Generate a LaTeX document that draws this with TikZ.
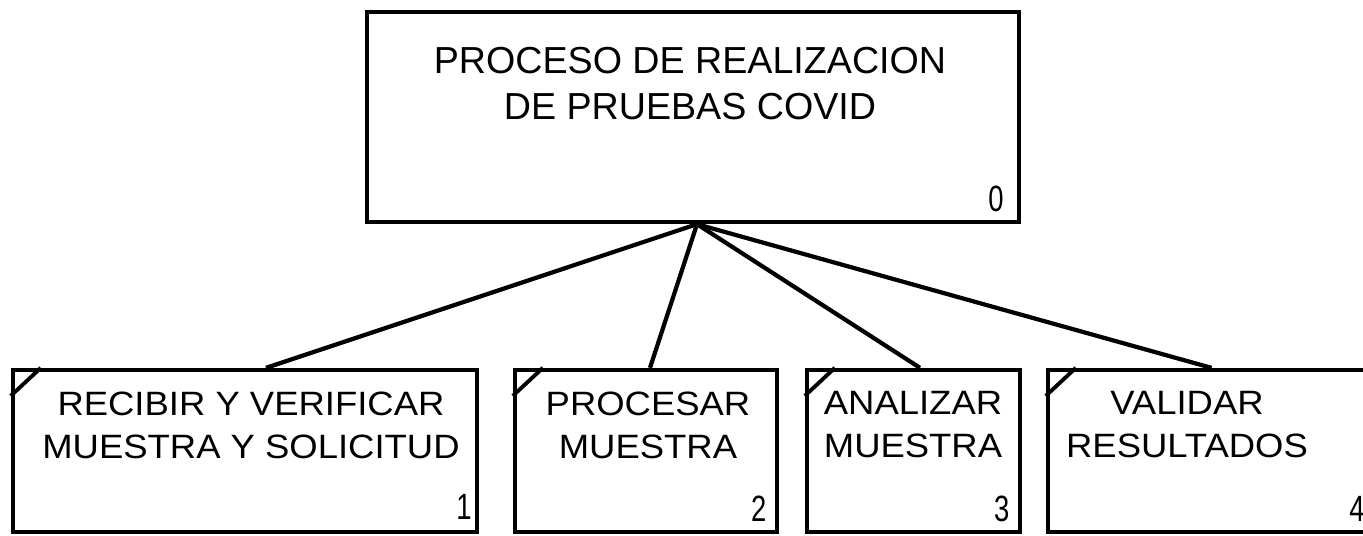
\documentclass[tikz,border=0pt]{standalone}
\usepackage{fontspec}
\setmainfont{Liberation Sans}
\newfontfamily\subfont[FakeStretch=1.08]{Liberation Sans}
\newfontfamily\numfont[FakeStretch=0.75]{Liberation Sans}
\usetikzlibrary{positioning}

\begin{document}
\begin{tikzpicture}[
  x=0.01cm, y=-0.01cm,
  box/.style={draw, line width=1.2pt, rectangle, inner sep=0pt},
  toplbl/.style={font=\fontsize{10.7pt}{13pt}\selectfont, align=center, inner sep=0pt, anchor=north},
  sublbl/.style={font=\subfont\fontsize{9.6pt}{12.2pt}\selectfont, align=center, inner sep=0pt, anchor=north},
  num/.style={font=\numfont\fontsize{10.4pt}{12pt}\selectfont, inner sep=0pt, anchor=south east},
  link/.style={line width=1.2pt},
  tick/.style={line width=1.1pt},
]
\clip (0,0) rectangle (1363,535);
\useasboundingbox (0,0) rectangle (1363,535);

%% ── Parent process ──────────────────────────────────────────────────────
\node[box, minimum width=6.52cm, minimum height=2.10cm] (top) at (693,117) {};
\node[toplbl] (toptxt) at (690,47) {PROCESO DE REALIZACION\\DE PRUEBAS COVID};
\node[num] (n0) at ([xshift=-0.17cm, yshift=0.12cm]top.south east) {0};

%% ── Sub processes ───────────────────────────────────────────────────────
\node[box, minimum width=4.64cm, minimum height=1.62cm] (b1) at (245,451) {};
\node[box, minimum width=2.62cm, minimum height=1.62cm] (b2) at (646,451) {};
\node[box, minimum width=2.13cm, minimum height=1.62cm] (b3) at (913.5,451) {};
\node[box, minimum width=3.27cm, minimum height=1.62cm] (b4) at (1211.5,451) {};

\node[sublbl] (t1) at (251,391) {RECIBIR Y VERIFICAR\\MUESTRA Y SOLICITUD};
\node[sublbl] (t2) at (648,391) {PROCESAR\\MUESTRA};
\node[sublbl] (t3) at (913,391) {ANALIZAR\\MUESTRA};
\node[sublbl] (t4) at (1187,391) {VALIDAR\\RESULTADOS};

\node[num] (n1) at ([xshift=-0.07cm, yshift=0.14cm]b1.south east) {1};
\node[num] (n2) at ([xshift=-0.12cm, yshift=0.12cm]b2.south east) {2};
\node[num] (n3) at ([xshift=-0.12cm, yshift=0.12cm]b3.south east) {3};
\node[num] (n4) at ([xshift=-0.12cm, yshift=0.12cm]b4.south east) {4};

%% corner marks
\foreach \b in {b1,b2,b3,b4} {
  \draw[tick] ([yshift=-0.28cm]\b.north west) -- ([xshift=0.30cm]\b.north west);
}

%% ── Decomposition links ─────────────────────────────────────────────────
\foreach \b/\dx in {b1/0.21, b2/0.04, b3/0.065, b4/0} {
  \draw[link] ([xshift=0.04cm]top.south) -- ([xshift=\dx cm]\b.north);
}

\end{tikzpicture}
\end{document}
